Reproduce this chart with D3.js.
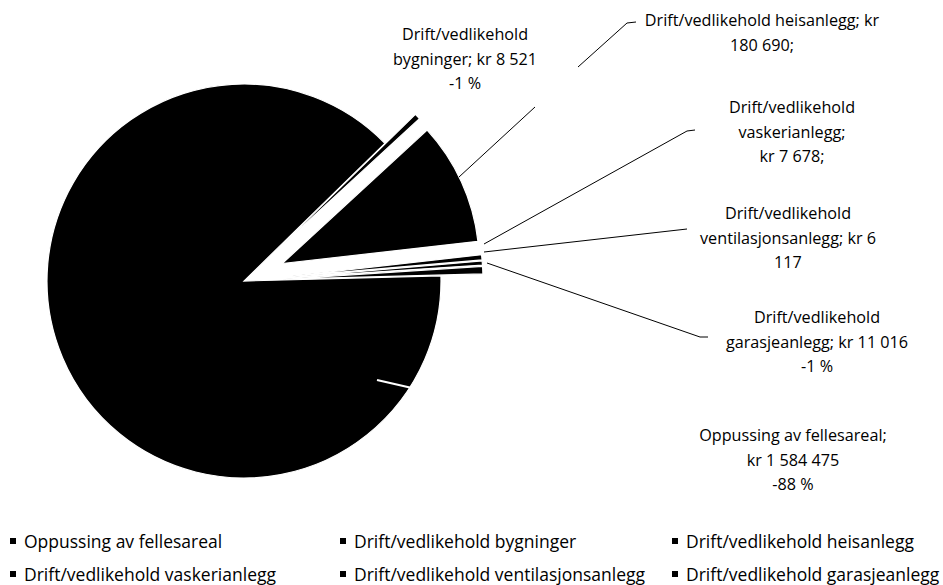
<!DOCTYPE html>
<html>
<head>
<meta charset="utf-8">
<script src="https://cdn.jsdelivr.net/npm/d3@7"></script>
<style>
  body { margin: 0; background: #fff; }
  text { font-family: "Open Sans", Lato, "Liberation Sans", sans-serif; fill: #000; }
</style>
</head>
<body>
<div id="chart"></div>
<script>
// Data
const categories = [
  "Oppussing av fellesareal",
  "Drift/vedlikehold bygninger",
  "Drift/vedlikehold heisanlegg",
  "Drift/vedlikehold vaskerianlegg",
  "Drift/vedlikehold ventilasjonsanlegg",
  "Drift/vedlikehold garasjeanlegg"
];
const values = [1584475, 8521, 180690, 7678, 6117, 11016];
const labelTexts = [
  ["Oppussing av fellesareal;", "kr 1 584 475", "-88 %"],
  ["Drift/vedlikehold", "bygninger; kr 8 521", "-1 %"],
  ["Drift/vedlikehold heisanlegg; kr", "180 690;"],
  ["Drift/vedlikehold", "vaskerianlegg;", "kr 7 678;"],
  ["Drift/vedlikehold", "ventilasjonsanlegg; kr 6", "117"],
  ["Drift/vedlikehold", "garasjeanlegg; kr 11 016", "-1 %"]
];

////////////////////////////////////////////////////////////////////////
// Layout

let width = 943, height = 585;
let cx = 244, cy = 281, radius = 197;
let explode = [0, 42, 42, 42, 42, 42];   // px each slice is pulled out
let startDeg = 88.5;
let lineH = 24.5;

// label block: centre x and centre y of first line
let labelPos = [[793, 435], [465, 34], [762, 20], [792, 107], [788, 213], [817, 317]];

// leader lines as drawn by the original (they do not all reach their slice)
let leaders = [
  { pts: [[377, 380], [412, 388]], color: "#fff", w: 2 },
  { pts: [[535, 107], [459, 177]], color: "#000", w: 1 },
  { pts: [[578, 67], [627, 23], [636, 22]], color: "#000", w: 1 },
  { pts: [[695, 130], [687, 131], [484, 244]], color: "#000", w: 1 },
  { pts: [[687, 229], [484, 252]], color: "#000", w: 1 },
  { pts: [[487, 263], [700, 337], [708, 337]], color: "#000", w: 1 }
];

let svg = d3.select("#chart")
  .append("svg")
  .attr("width", width).attr("height", height);

////////////////////////////////////////////////////////////////////////
// Pie

let toRad = d => d * Math.PI / 180;

let pie = d3.pie()
  .sort(null)
  .startAngle(toRad(startDeg))
  .endAngle(toRad(startDeg + 360));

let arc = d3.arc().innerRadius(0).outerRadius(radius);

let slices = pie(values);

svg.append("g")
  .attr("transform", `translate(${cx},${cy})`)
  .selectAll(".slice")
  .data(slices)
  .enter()
  .append("path")
  .attr("class", "slice")
  .attr("d", arc)
  .attr("transform", (d, i) => {
    let mid = (d.startAngle + d.endAngle) / 2;
    return `translate(${explode[i] * Math.sin(mid)},${-explode[i] * Math.cos(mid)})`;
  })
  .style("fill", "#000")
  .style("stroke", "#fff")
  .style("stroke-width", 1.2)
  .style("stroke-linejoin", "miter");

////////////////////////////////////////////////////////////////////////
// Leader lines and data labels

let line = d3.line();

svg.append("g")
  .selectAll(".leader")
  .data(leaders)
  .enter()
  .append("path")
  .attr("class", "leader")
  .attr("d", d => line(d.pts))
  .style("fill", "none")
  .style("stroke", d => d.color)
  .style("stroke-width", d => d.w);

let labels = svg.append("g")
  .selectAll(".label")
  .data(labelTexts)
  .enter()
  .append("text")
  .attr("class", "label")
  .attr("text-anchor", "middle")
  .style("font-size", "16.2px");

labels.selectAll("tspan")
  .data((d, i) => d.map((t, k) => ({ t, k, i })))
  .enter()
  .append("tspan")
  .attr("x", d => labelPos[d.i][0])
  .attr("y", d => labelPos[d.i][1] + d.k * lineH + 6)
  .text(d => d.t);

////////////////////////////////////////////////////////////////////////
// Legend

let legendX = [10, 340, 672];
let legendY = [541, 574];

let legend = svg.append("g")
  .selectAll(".legend")
  .data(categories)
  .enter()
  .append("g")
  .attr("class", "legend")
  .attr("transform", (d, i) => `translate(${legendX[i % 3]},${legendY[Math.floor(i / 3)]})`);

legend.append("rect")
  .attr("x", 0).attr("y", -3)
  .attr("width", 6).attr("height", 6)
  .style("fill", "#000");

legend.append("text")
  .attr("x", 14)
  .attr("y", 6.5)
  .style("font-size", "17.5px")
  .text(d => d);
</script>
</body>
</html>
